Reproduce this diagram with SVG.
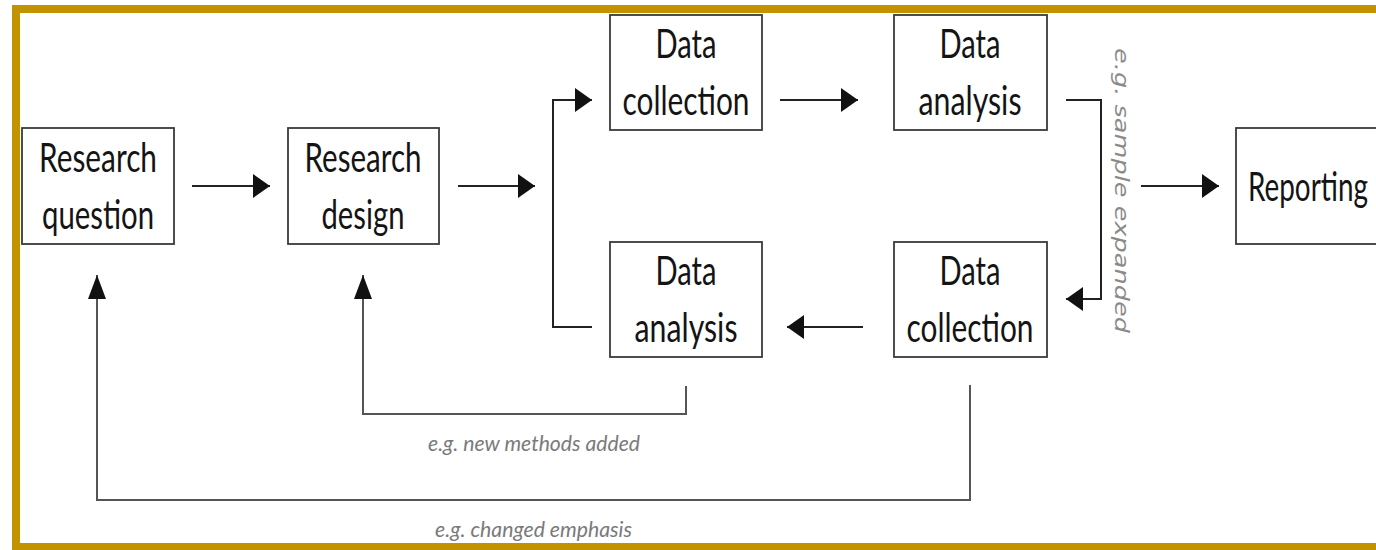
<svg xmlns="http://www.w3.org/2000/svg" width="1376" height="550" viewBox="0 0 1376 550">
  <style>
    .box { fill: #ffffff; stroke: #3a3a3a; stroke-width: 1.8; }
    .lbl { font-family: Lato, "Open Sans", "Liberation Sans", sans-serif; font-size: 40px; fill: #141414; }
    .note { font-family: Lato, "Liberation Sans", sans-serif; font-style: italic; font-size: 22px; fill: #7a7a7a; }
    .vnote { font-family: "DejaVu Sans", "Liberation Sans", sans-serif; font-style: oblique; font-size: 20px; fill: #8a8a8a; }
    .flow { fill: none; stroke: #222222; stroke-width: 2; }
    .back { fill: none; stroke: #555555; stroke-width: 2; }
  </style>
  <defs>
    <marker id="ah" markerUnits="userSpaceOnUse" viewBox="0 0 17 24" refX="17" refY="12" markerWidth="17" markerHeight="24" orient="auto">
      <path d="M0,0 L17,12 L0,24 Z" fill="#111111"/>
    </marker>
    <marker id="av" markerUnits="userSpaceOnUse" viewBox="0 0 24 18" refX="24" refY="9" markerWidth="24" markerHeight="18" orient="auto">
      <path d="M0,0 L24,9 L0,18 Z" fill="#111111"/>
    </marker>
  </defs>

  <!-- frame -->
  <rect x="0" y="0" width="1376" height="550" fill="#ffffff"/>
  <path d="M16,550 V9 H1376" fill="none" stroke="#c39200" stroke-width="8"/>
  <rect x="12" y="543" width="1364" height="7" fill="#c39200"/>

  <g id="connectors">
    <path class="flow" d="M192,186 H270" marker-end="url(#ah)"/>
    <path class="flow" d="M458,186 H535" marker-end="url(#ah)"/>
    <path class="flow" d="M592,327 H553 V100 H592" marker-end="url(#ah)"/>
    <path class="flow" d="M780,100 H858" marker-end="url(#ah)"/>
    <path class="flow" d="M1066,100 H1101 V299 H1066" marker-end="url(#ah)"/>
    <path class="flow" d="M1141,186 H1219" marker-end="url(#ah)"/>
    <path class="flow" d="M863,327 H787" marker-end="url(#ah)"/>
    <path class="back" d="M686,386 V414 H363 V275" marker-end="url(#av)"/>
    <path class="back" d="M970,385 V500 H97 V275" marker-end="url(#av)"/>
  </g>

  <g id="research-question">
    <rect class="box" x="22" y="128" width="152" height="116"/>
    <text class="lbl" x="98" y="172" text-anchor="middle" textLength="118" lengthAdjust="spacingAndGlyphs">Research</text>
    <text class="lbl" x="98" y="229" text-anchor="middle" textLength="112" lengthAdjust="spacingAndGlyphs">question</text>
  </g>

  <g id="research-design">
    <rect class="box" x="288" y="128" width="151" height="116"/>
    <text class="lbl" x="363" y="172" text-anchor="middle" textLength="117" lengthAdjust="spacingAndGlyphs">Research</text>
    <text class="lbl" x="363" y="229" text-anchor="middle" textLength="83" lengthAdjust="spacingAndGlyphs">design</text>
  </g>

  <g id="data-collection-1">
    <rect class="box" x="610" y="15" width="152" height="115"/>
    <text class="lbl" x="686" y="58" text-anchor="middle" textLength="61" lengthAdjust="spacingAndGlyphs">Data</text>
    <text class="lbl" x="686" y="115" text-anchor="middle" textLength="127" lengthAdjust="spacingAndGlyphs">collection</text>
  </g>

  <g id="data-analysis-1">
    <rect class="box" x="894" y="15" width="153" height="115"/>
    <text class="lbl" x="970" y="58" text-anchor="middle" textLength="61" lengthAdjust="spacingAndGlyphs">Data</text>
    <text class="lbl" x="970" y="115" text-anchor="middle" textLength="103" lengthAdjust="spacingAndGlyphs">analysis</text>
  </g>

  <g id="data-analysis-2">
    <rect class="box" x="610" y="242" width="152" height="115"/>
    <text class="lbl" x="686" y="285" text-anchor="middle" textLength="61" lengthAdjust="spacingAndGlyphs">Data</text>
    <text class="lbl" x="686" y="342" text-anchor="middle" textLength="103" lengthAdjust="spacingAndGlyphs">analysis</text>
  </g>

  <g id="data-collection-2">
    <rect class="box" x="894" y="242" width="153" height="115"/>
    <text class="lbl" x="970" y="285" text-anchor="middle" textLength="61" lengthAdjust="spacingAndGlyphs">Data</text>
    <text class="lbl" x="970" y="342" text-anchor="middle" textLength="127" lengthAdjust="spacingAndGlyphs">collection</text>
  </g>

  <g id="reporting">
    <rect class="box" x="1236" y="128" width="160" height="116"/>
    <text class="lbl" x="1248" y="201" textLength="120" lengthAdjust="spacingAndGlyphs">Reporting</text>
  </g>

  <g id="notes">
    <text class="note" x="428" y="451" textLength="212" lengthAdjust="spacingAndGlyphs">e.g. new methods added</text>
    <text class="note" x="435" y="537" textLength="197" lengthAdjust="spacingAndGlyphs">e.g. changed emphasis</text>
    <text class="vnote" transform="translate(1115,48) rotate(90)" textLength="285" lengthAdjust="spacingAndGlyphs">e.g. sample expanded</text>
  </g>
</svg>
